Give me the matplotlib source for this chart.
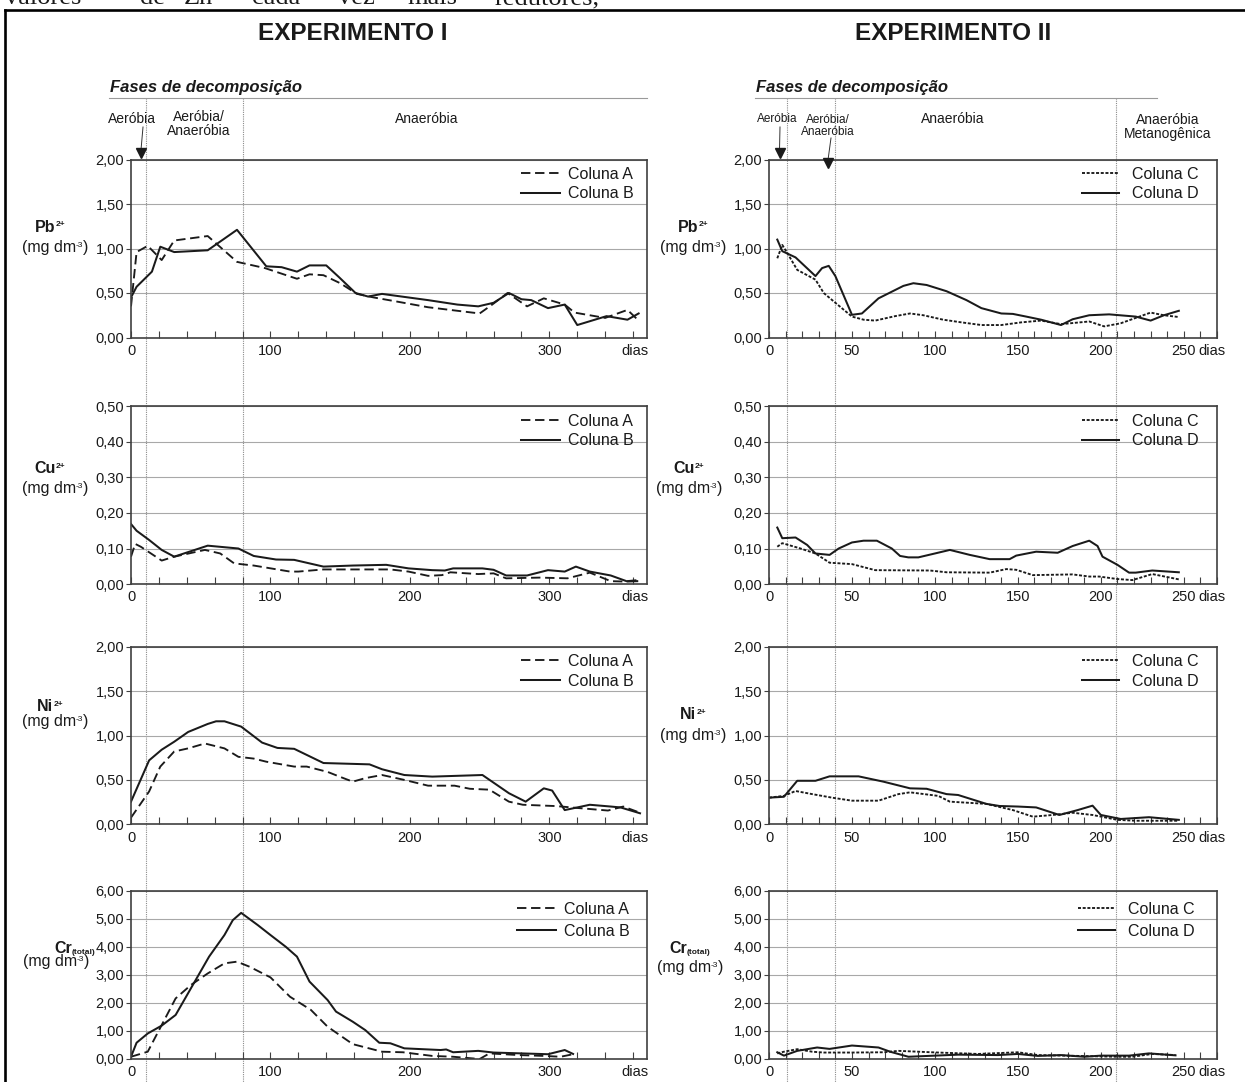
import matplotlib
matplotlib.use('Agg')
import matplotlib.pyplot as plt
from matplotlib.lines import Line2D
from matplotlib.ticker import MultipleLocator, FuncFormatter

# ---------------- DATA ----------------
# Experimento I (dias, mg dm-3)
pb_a_days = [0, 4, 12, 22, 31, 55, 76, 96, 119, 128, 138, 150, 162, 174, 192, 213, 250, 259, 270, 284, 296, 311, 318, 340, 356, 364]
pb_a_vals = [0.35, 0.96, 1.03, 0.87, 1.09, 1.14, 0.85, 0.78, 0.66, 0.71, 0.70, 0.61, 0.49, 0.45, 0.40, 0.34, 0.27, 0.37, 0.50, 0.35, 0.44, 0.37, 0.28, 0.22, 0.31, 0.19]
pb_b_days = [0, 4, 15, 21, 31, 55, 76, 97, 108, 119, 128, 140, 149, 161, 170, 180, 213, 234, 249, 260, 271, 280, 287, 299, 311, 320, 341, 356, 364]
pb_b_vals = [0.45, 0.57, 0.74, 1.02, 0.96, 0.98, 1.21, 0.80, 0.79, 0.74, 0.81, 0.81, 0.68, 0.50, 0.46, 0.49, 0.42, 0.37, 0.35, 0.39, 0.50, 0.43, 0.42, 0.33, 0.37, 0.14, 0.24, 0.20, 0.27]

cu_a_days = [0, 3, 7, 22, 31, 53, 64, 74, 88, 114, 120, 138, 186, 199, 213, 223, 229, 249, 260, 269, 293, 313, 329, 344, 353, 363]
cu_a_vals = [0.077, 0.113, 0.105, 0.066, 0.077, 0.096, 0.086, 0.058, 0.052, 0.035, 0.035, 0.041, 0.041, 0.035, 0.023, 0.025, 0.033, 0.028, 0.030, 0.016, 0.018, 0.016, 0.032, 0.008, 0.007, 0.011]
cu_b_days = [0, 4, 13, 22, 31, 55, 77, 88, 104, 117, 138, 159, 183, 199, 216, 225, 231, 252, 260, 269, 284, 299, 311, 319, 329, 344, 356, 363]
cu_b_vals = [0.169, 0.150, 0.124, 0.096, 0.077, 0.108, 0.100, 0.079, 0.069, 0.068, 0.049, 0.052, 0.054, 0.044, 0.039, 0.038, 0.044, 0.044, 0.040, 0.024, 0.024, 0.039, 0.035, 0.049, 0.035, 0.024, 0.007, 0.008]

ni_a_days = [0, 13, 21, 31, 41, 53, 67, 77, 88, 97, 117, 126, 141, 149, 159, 168, 180, 196, 213, 232, 243, 257, 271, 281, 305, 323, 342, 353, 365]
ni_a_vals = [0.075, 0.37, 0.65, 0.82, 0.855, 0.91, 0.855, 0.76, 0.74, 0.705, 0.65, 0.65, 0.59, 0.54, 0.48, 0.52, 0.555, 0.50, 0.435, 0.435, 0.40, 0.39, 0.255, 0.22, 0.205, 0.18, 0.155, 0.20, 0.13]
ni_b_days = [0, 13, 22, 31, 41, 55, 61, 67, 79, 94, 105, 117, 138, 171, 180, 196, 216, 252, 271, 283, 296, 302, 311, 329, 344, 351, 365]
ni_b_vals = [0.255, 0.72, 0.84, 0.93, 1.04, 1.13, 1.16, 1.16, 1.10, 0.92, 0.86, 0.85, 0.69, 0.675, 0.62, 0.555, 0.537, 0.555, 0.35, 0.255, 0.405, 0.38, 0.16, 0.22, 0.20, 0.19, 0.124]

cr_a_days = [0, 12, 22, 32, 43, 55, 67, 76, 85, 100, 114, 129, 141, 159, 180, 195, 216, 231, 250, 257, 278, 296, 308, 317]
cr_a_vals = [0.08, 0.26, 1.21, 2.16, 2.64, 3.05, 3.41, 3.47, 3.29, 2.91, 2.22, 1.75, 1.15, 0.53, 0.26, 0.24, 0.11, 0.08, 0.0, 0.20, 0.14, 0.11, 0.08, 0.17]
cr_b_days = [0, 4, 12, 22, 32, 56, 67, 73, 79, 91, 100, 111, 119, 128, 141, 147, 159, 168, 178, 186, 196, 222, 226, 231, 249, 260, 293, 299, 311, 317]
cr_b_vals = [0.08, 0.58, 0.91, 1.19, 1.57, 3.65, 4.42, 4.95, 5.21, 4.77, 4.42, 4.0, 3.65, 2.76, 2.10, 1.69, 1.33, 1.03, 0.58, 0.56, 0.38, 0.32, 0.34, 0.24, 0.29, 0.23, 0.18, 0.17, 0.32, 0.18]

# Experimento II
pb_c_days = [5, 8, 11, 17, 28, 33, 40, 50, 57, 64, 76, 85, 93, 105, 116, 128, 140, 152, 164, 176, 193, 202, 212, 221, 230, 238, 247]
pb_c_vals = [0.89, 1.04, 0.95, 0.76, 0.65, 0.50, 0.39, 0.235, 0.20, 0.19, 0.24, 0.27, 0.25, 0.20, 0.17, 0.14, 0.14, 0.17, 0.19, 0.15, 0.18, 0.125, 0.16, 0.22, 0.28, 0.25, 0.23]
pb_d_days = [5, 8, 16, 28, 32, 36, 40, 50, 56, 66, 81, 87, 95, 107, 119, 128, 140, 147, 155, 164, 176, 183, 193, 205, 221, 230, 238, 247]
pb_d_vals = [1.10, 0.97, 0.90, 0.69, 0.78, 0.805, 0.69, 0.255, 0.27, 0.44, 0.58, 0.61, 0.59, 0.52, 0.42, 0.33, 0.27, 0.265, 0.235, 0.20, 0.14, 0.205, 0.25, 0.26, 0.235, 0.19, 0.25, 0.30]

cu_c_days = [5, 8, 19, 28, 36.5, 50, 64, 97, 107, 133, 143, 149, 159, 183, 193, 199, 210, 219, 231, 247]
cu_c_vals = [0.105, 0.115, 0.100, 0.086, 0.060, 0.056, 0.039, 0.038, 0.033, 0.032, 0.042, 0.040, 0.025, 0.027, 0.021, 0.021, 0.014, 0.011, 0.028, 0.013]
cu_d_days = [5, 8, 16, 23, 28, 36.5, 42, 50, 57, 65, 74, 79, 84, 90, 100, 109, 121, 133, 145, 149, 161, 174, 183, 193, 198, 201, 210, 217, 221, 231, 247]
cu_d_vals = [0.159, 0.129, 0.131, 0.110, 0.086, 0.082, 0.100, 0.117, 0.122, 0.122, 0.100, 0.079, 0.075, 0.075, 0.086, 0.096, 0.082, 0.070, 0.070, 0.080, 0.091, 0.088, 0.107, 0.122, 0.107, 0.077, 0.054, 0.032, 0.032, 0.038, 0.033]

ni_c_days = [0, 9, 16, 26, 38, 50, 66, 78, 85, 102, 109, 131, 147, 159, 171, 183, 195, 210, 221, 247]
ni_c_vals = [0.30, 0.32, 0.375, 0.34, 0.30, 0.266, 0.266, 0.34, 0.36, 0.32, 0.255, 0.23, 0.16, 0.086, 0.105, 0.13, 0.105, 0.05, 0.04, 0.04]
ni_d_days = [0, 9, 17, 28, 36.5, 54, 69, 85, 95, 107, 114, 131, 139, 150, 161, 175, 186, 195, 200, 212, 229, 247]
ni_d_vals = [0.30, 0.31, 0.49, 0.49, 0.54, 0.54, 0.48, 0.405, 0.40, 0.34, 0.33, 0.23, 0.206, 0.20, 0.19, 0.105, 0.16, 0.21, 0.105, 0.06, 0.08, 0.05]

cr_c_days = [5, 9, 17, 26, 33, 50, 69, 78, 102, 126, 150, 162, 186, 210, 219, 231, 245]
cr_c_vals = [0.20, 0.26, 0.35, 0.26, 0.23, 0.23, 0.24, 0.29, 0.23, 0.18, 0.24, 0.14, 0.11, 0.08, 0.08, 0.18, 0.14]
cr_d_days = [5, 9, 17, 29, 36.5, 50, 66, 73, 84, 100, 114, 138, 150, 162, 176, 190, 200, 217, 229, 245]
cr_d_vals = [0.24, 0.12, 0.29, 0.41, 0.36, 0.48, 0.41, 0.26, 0.08, 0.12, 0.155, 0.14, 0.18, 0.11, 0.14, 0.08, 0.12, 0.12, 0.20, 0.13]

series_I = [((pb_a_days, pb_a_vals), (pb_b_days, pb_b_vals)),
            ((cu_a_days, cu_a_vals), (cu_b_days, cu_b_vals)),
            ((ni_a_days, ni_a_vals), (ni_b_days, ni_b_vals)),
            ((cr_a_days, cr_a_vals), (cr_b_days, cr_b_vals))]
series_II = [((pb_c_days, pb_c_vals), (pb_d_days, pb_d_vals)),
             ((cu_c_days, cu_c_vals), (cu_d_days, cu_d_vals)),
             ((ni_c_days, ni_c_vals), (ni_d_days, ni_d_vals)),
             ((cr_c_days, cr_c_vals), (cr_d_days, cr_d_vals))]

ylims = [2.0, 0.5, 2.0, 6.0]
ysteps = [0.5, 0.1, 0.5, 1.0]
metal_names = ['Pb', 'Cu', 'Ni', 'Cr']
metal_scripts = [('2+', 'sup'), ('2+', 'sup'), ('2+', 'sup'), ('(total)', 'sub')]
legend_I = ['Coluna A', 'Coluna B']
legend_II = ['Coluna C', 'Coluna D']
xticks_I = [0, 100, 200, 300]
xticks_II = [0, 50, 100, 150, 200, 250]
phase_days_I = [11, 80]
phase_days_II = [11, 40, 209]

# ---------------- STYLE ----------------
W, H = 1245, 1082
plt.rcParams['font.family'] = ['Liberation Sans', 'DejaVu Sans']

INK = '#1a1a1a'
FRAME = '#404040'
GRID = '#a8a8a8'

fig = plt.figure(figsize=(W / 100, H / 100), dpi=100)
fig.patch.set_facecolor('white')
renderer = fig.canvas.get_renderer()


def fx(x):
    return x / W


def fy(y):
    return 1 - y / H


def ftext(x, y, s, **kw):
    return fig.text(fx(x), fy(y), s, **kw)


def compose(xc, ybase, pieces):
    """pieces: list of (text, fontsize, weight, raise_px); centred at xc, baseline ybase."""
    texts = []
    widths = []
    for s, size, weight, dy in pieces:
        t = ftext(0, ybase - dy, s, ha='left', va='baseline', fontsize=size,
                  fontweight=weight, color=INK)
        bb = t.get_window_extent(renderer=renderer)
        texts.append(t)
        widths.append(bb.width)
    total = sum(widths)
    x = xc - total / 2
    for t, w in zip(texts, widths):
        t.set_x(fx(x))
        x += w


rows_px = [(159.5, 337.5), (406.5, 584.0), (646.7, 824.3), (890.7, 1059.0)]
cols_px = [(131, 647), (769, 1217)]
xlims = [370, 270]

ls_first = [(0, (5, 2.5)), (0, (1.6, 0.9))]
fmt = FuncFormatter(lambda v, p: f'{v:.2f}'.replace('.', ','))

axes = [[None] * 4, [None] * 4]
for c, (x0, x1) in enumerate(cols_px):
    series = series_I if c == 0 else series_II
    labels = legend_I if c == 0 else legend_II
    for r, (yt, yb) in enumerate(rows_px):
        ax = fig.add_axes([fx(x0), fy(yb), (x1 - x0) / W, (yb - yt) / H])
        axes[c][r] = ax
        ax.set_facecolor('none')
        (d1, v1), (d2, v2) = series[r]
        ax.plot(d1, v1, color=INK, lw=1.35, ls=ls_first[c], label=labels[0])
        ax.plot(d2, v2, color=INK, lw=1.45, ls='-', label=labels[1])
        ax.set_xlim(0, xlims[c])
        ax.set_ylim(0, ylims[r])
        ax.yaxis.set_major_locator(MultipleLocator(ysteps[r]))
        ax.yaxis.set_major_formatter(fmt)
        ax.yaxis.grid(True, color=GRID, lw=0.8)
        ax.set_axisbelow(True)
        if c == 0:
            ax.set_xticks(xticks_I)
            ax.xaxis.set_minor_locator(MultipleLocator(20))
        else:
            ax.set_xticks(xticks_II)
            ax.xaxis.set_minor_locator(MultipleLocator(10))
        for s in ax.spines.values():
            s.set_color(FRAME)
            s.set_linewidth(1.2)
        ax.tick_params(axis='x', which='both', direction='in', length=5, width=0.8,
                       color=FRAME, pad=4.5, labelsize=10.5, labelcolor=INK)
        ax.tick_params(axis='y', which='major', direction='out', length=3.5, width=0.8,
                       color=FRAME, pad=1.5, labelsize=10.5, labelcolor=INK)
        if c == 0:
            ax.annotate('dias', xy=(361.5, 0), xycoords=('data', 'axes fraction'),
                        xytext=(0, -4.5), textcoords='offset points',
                        ha='center', va='top', fontsize=10.5, color=INK)
        else:
            ax.annotate('dias', xy=(258.5, 0), xycoords=('data', 'axes fraction'),
                        xytext=(0, -4.5), textcoords='offset points',
                        ha='left', va='top', fontsize=10.5, color=INK)
        anchor_x = 1 - 6 / (x1 - x0) if c == 0 else 1 - 11 / (x1 - x0)
        leg = ax.legend(loc='upper right', bbox_to_anchor=(anchor_x, 1.0), frameon=False,
                        fontsize=11.5, handlelength=2.45 if c == 0 else 2.3,
                        handletextpad=0.5 if c == 0 else 0.85,
                        labelspacing=0.3 if r < 3 else 0.42,
                        borderpad=0.45 if r < 3 else 0.7, borderaxespad=0)
        for t in leg.get_texts():
            t.set_color(INK)

# y labels (metal and unit): (metal_x, metal_baseline, unit_x, unit_baseline)
label_pos_I = [(50, 232, 55, 252), (50, 473, 55, 493), (50, 711, 55, 726), (75, 953, 56, 966)]
label_pos_II = [(693, 232, 693, 252), (689, 473, 689, 493), (693, 719, 693, 740), (690, 953, 690, 972)]
for r in range(4):
    for pos in (label_pos_I[r], label_pos_II[r]):
        mx, my, ux, uy = pos
        script, kind = metal_scripts[r]
        dy = 5.5 if kind == 'sup' else -1.0
        compose(mx, my, [(metal_names[r], 11.5, 'bold', 0), (script, 6.0, 'bold', dy)])
        compose(ux, uy, [('(mg dm', 11.5, 'normal', 0), ('-3', 6.0, 'normal', 5.0),
                         (')', 11.5, 'normal', 0)])

# Titles
ftext(353, 34, 'EXPERIMENTO I', ha='center', va='center', fontsize=17.5, fontweight='bold', color=INK)
ftext(953, 34, 'EXPERIMENTO II', ha='center', va='center', fontsize=17.5, fontweight='bold', color=INK)

# Fases de decomposição
for x0, x1 in [(109, 647), (755, 1157)]:
    ftext(x0 + 1, 92, 'Fases de decomposição', ha='left', va='baseline', fontsize=12,
          fontweight='bold', fontstyle='italic', color=INK)
    fig.add_artist(Line2D([fx(x0), fx(x1)], [fy(97.5), fy(97.5)], color='#9a9a9a', lw=0.8))

# Phase boundary lines (from day positions through top axes' scales)
fig.canvas.draw()
inv = fig.transFigure.inverted()
for c, days in enumerate([phase_days_I, phase_days_II]):
    ax = axes[c][0]
    for d in days:
        xf = inv.transform(ax.transData.transform((d, 0)))[0]
        fig.add_artist(Line2D([xf, xf], [fy(97.5), 0], color='#8c8c8c', lw=0.8,
                              ls=(0, (1, 1)), zorder=-1))

# Phase labels
ftext(132, 119, 'Aeróbia', ha='center', va='center', fontsize=10, color=INK)
ftext(199, 124, 'Aeróbia/\nAnaeróbia', ha='center', va='center', fontsize=10,
      linespacing=1.0, color=INK)
ftext(427, 119, 'Anaeróbia', ha='center', va='center', fontsize=10, color=INK)
ftext(777, 119, 'Aeróbia', ha='center', va='center', fontsize=8.5, color=INK)
ftext(828, 126, 'Aeróbia/\nAnaeróbia', ha='center', va='center', fontsize=8.5,
      linespacing=1.0, color=INK)
ftext(953, 119, 'Anaeróbia', ha='center', va='center', fontsize=10, color=INK)
ftext(1168, 127, 'Anaeróbia\nMetanogênica', ha='center', va='center', fontsize=10,
      linespacing=1.05, color=INK)

# Arrows
for (xa, ya, xb, yb) in [(143, 127, 141, 150), (780, 127, 779.5, 150), (831, 138, 828, 160)]:
    fig.add_artist(Line2D([fx(xa), fx(xb)], [fy(ya), fy(yb)], color='#333333', lw=0.7))
    fig.add_artist(Line2D([fx(xb)], [fy(yb + 3)], marker='v', markersize=7,
                          color=INK, lw=0))

# Border of the figure box
fig.add_artist(Line2D([fx(5.5), fx(5.5)], [fy(10), 0], color='black', lw=1.9))
fig.add_artist(Line2D([fx(4.6), 1], [fy(10), fy(10)], color='black', lw=1.9))

# Clipped line of body text above the box
words = ['valores', 'de', 'Zn', 'cada', 'vez', 'mais', 'redutores,']
word_x = [5, 140, 184, 252, 338, 407, 495]
for wd, wx in zip(words, word_x):
    ftext(wx, 4, wd, ha='left', va='baseline', fontsize=19, family='Liberation Serif', color=INK)

fig.savefig('out.png', dpi=100, facecolor='white')
